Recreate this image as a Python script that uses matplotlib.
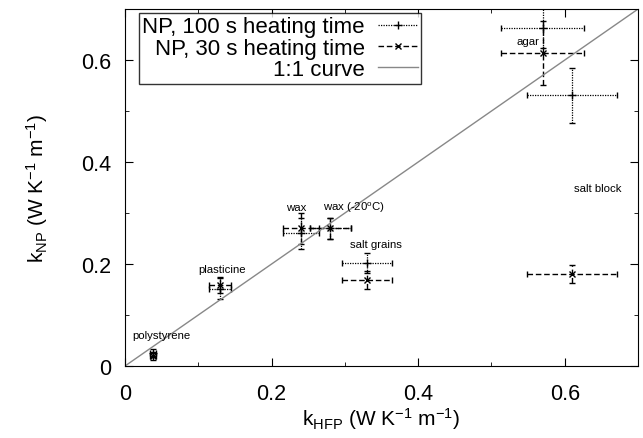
import matplotlib.pyplot as plt
from matplotlib.lines import Line2D
from matplotlib.legend_handler import HandlerLine2D
from matplotlib.ticker import MultipleLocator

plt.rcParams['font.family'] = ['Liberation Sans', 'DejaVu Sans']
plt.rcParams['mathtext.fontset'] = 'custom'
plt.rcParams['mathtext.rm'] = 'Liberation Sans'
plt.rcParams['mathtext.it'] = 'Liberation Sans'

# data: polystyrene, plasticine, wax, wax(-20), salt grains, agar, salt block
materials = ['polystyrene', 'plasticine', 'wax', 'wax (-20$^{o}$C)', 'salt grains', 'agar', 'salt block']
k_hfp = [0.038, 0.13, 0.24, 0.28, 0.33, 0.57, 0.61]
k_hfp_err = [0.004, 0.015, 0.025, 0.028, 0.034, 0.057, 0.061]

np100 = [0.025, 0.152, 0.26, 0.27, 0.202, 0.663, 0.531]
np100_err = [0.008, 0.02, 0.03, 0.02, 0.02, 0.04, 0.054]

np30 = [0.02, 0.159, 0.27, 0.27, 0.169, 0.614, 0.18]
np30_err = [0.008, 0.015, 0.03, 0.02, 0.017, 0.062, 0.018]

# label anchor points (data coords)
label_x = [0.05, 0.133, 0.234, 0.312, 0.343, 0.55, 0.645]
label_y = [0.06, 0.19, 0.312, 0.312, 0.24, 0.637, 0.35]


class HandlerEndMarker(HandlerLine2D):
    # gnuplot style key: line sample with the point at its right end
    def get_xdata(self, legend, xdescent, ydescent, width, height, fontsize):
        return [-xdescent, width - xdescent], [width - xdescent]


fig = plt.figure(figsize=(6.43, 4.39), dpi=100)
ax = fig.add_axes([0.1944, 0.164, 0.7978, 0.813])

e1 = ax.errorbar(k_hfp, np100, xerr=k_hfp_err, yerr=np100_err, fmt='+', color='black',
                 ms=6, mew=1.0, elinewidth=0.9, capsize=2, ls='none')
for bar in e1[2]:
    bar.set_linestyle((0, (1, 1)))

e2 = ax.errorbar(k_hfp, np30, xerr=k_hfp_err, yerr=np30_err, fmt='x', color='black',
                 ms=5, mew=1.0, elinewidth=1.0, capsize=2, ls='none')
for bar in e2[2]:
    bar.set_linestyle((0, (4, 2)))

ax.plot([0, 0.7], [0, 0.7], color='#888888', lw=1.0)

for name, lx, ly in zip(materials, label_x, label_y):
    ax.text(lx, ly, name, fontsize=8.2, ha='center', va='center')

ax.set_xlim(0, 0.7)
ax.set_ylim(0, 0.7)
ax.xaxis.set_major_locator(MultipleLocator(0.2))
ax.xaxis.set_minor_locator(MultipleLocator(0.1))
ax.yaxis.set_major_locator(MultipleLocator(0.2))
ax.yaxis.set_minor_locator(MultipleLocator(0.1))
fmt = plt.FuncFormatter(lambda v, p: '0' if abs(v) < 1e-9 else f'{v:.1f}')
ax.xaxis.set_major_formatter(fmt)
ax.yaxis.set_major_formatter(fmt)
ax.tick_params(which='both', direction='in', top=True, right=True, labelsize=15.5)
ax.tick_params(which='major', length=6)
ax.tick_params(which='minor', length=3)
ax.tick_params(axis='x', which='major', pad=12)
ax.tick_params(axis='y', which='major', pad=10)

ax.set_xlabel('k$_{\\mathregular{HFP}}$ (W K$^{\\mathregular{-1}}$ m$^{\\mathregular{-1}}$)', fontsize=15, labelpad=1)
ax.set_ylabel('k$_{\\mathregular{NP}}$ (W K$^{\\mathregular{-1}}$ m$^{\\mathregular{-1}}$)', fontsize=15, labelpad=22)

h1 = Line2D([], [], color='black', lw=0.9, ls=(0, (1, 1)), marker='+', ms=6, mew=1.0)
h2 = Line2D([], [], color='black', lw=1.0, ls=(0, (4, 2)), marker='x', ms=5, mew=1.0)
h3 = Line2D([], [], color='#888888', lw=1.0)
leg = ax.legend([h1, h2, h3], ['NP, 100 s heating time', 'NP, 30 s heating time', '1:1 curve'],
                loc='upper left', bbox_to_anchor=(0.027, 0.989), fontsize=16, markerfirst=False,
                frameon=True, fancybox=False, edgecolor='black', borderpad=0.15,
                labelspacing=0.02, handlelength=1.8, handletextpad=0.6, borderaxespad=0,
                handler_map={Line2D: HandlerEndMarker()})
leg.get_frame().set_linewidth(1.0)
leg._legend_box.align = 'right'
for t in leg.get_texts():
    t.set_ha('right')

plt.savefig('out.png', dpi=100)
